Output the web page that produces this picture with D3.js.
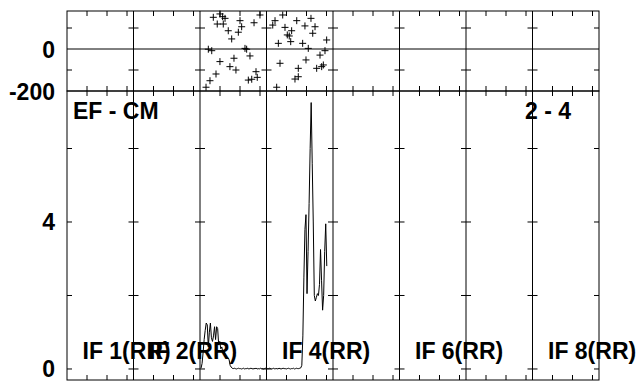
<!DOCTYPE html>
<html><head><meta charset="utf-8">
<script src="https://cdn.jsdelivr.net/npm/d3@7"></script>
<style>html,body{margin:0;padding:0;background:#fff;}svg{display:block;}</style>
</head><body><svg id="c" width="640" height="383"></svg>
<script>
// ---- data ----
const nIF = 8;
const chanPerIF = 64;
const minorTickOffsets = [19.25, 38.5, 57.75];
const phaseTicks = [-100, 0, 100];
const phaseTickLabels = [0, -200];
const ampTicks = [0, 2, 4, 6];
const ampTickLabels = [0, 4];
const ifLabelIndex = [1, 2, 4, 6, 8];
const ifLabelText = ["IF 1(RR)", "IF 2(RR)", "IF 4(RR)", "IF 6(RR)", "IF 8(RR)"];
const baselineLabel = "EF - CM";
const sourceLabel = "2 - 4";

const ampFirstChannel = 129;
const ampValues = [
  0.02,0.15,0.45,0.8,1.05,1.25,1.2,0.6,1.0,1.25,0.85,0.75,0.9,1.15,0.8,1.15,1.1,0.65,0.75,0.55,
  0.6,0.45,0.5,0.4,0.35,0.3,0.3,0.25,0.1,0.05,0.02,
  0.01,0.02,0.01,0.0,0.01,0.02,0.01,0.01,0.0,0.01,
  0.02,0.0,0.01,0.01,0.02,0.0,0.01,0.02,0.01,0.0,
  0.01,0.01,0.02,0.0,0.01,0.0,0.02,0.01,0.01,0.0,
  0.01,0.02,0.0,0.01,0.01,0.02,0.01,0.0,0.01,0.02,
  0.0,0.01,0.01,0.0,0.02,0.01,0.0,0.01,0.02,0.01,
  0.01,0.0,0.01,0.02,0.01,0.0,0.01,0.01,0.02,0.0,
  0.01,0.02,0.01,0.01,0.02,0.03,
  0.1,0.9,2.5,3.8,4.2,2.05,3.2,4.5,6.0,7.25,5.6,4.0,2.0,1.85,1.95,2.05,2.0,2.3,3.25,2.4,1.6,2.0,3.2,3.95,2.8
];

const phaseChannels = [
  140.8,147.2,149.8,152.1,144.6,150.4,155.2,166.5,168.1,164.9,158.5,180.0,185.7,136.0,139.3,171.3,172.9,
  147.2,160.7,176.1,156.8,162.6,143.4,137.6,133.8,181.9,183.1,174.5,177.8,
  207.6,200.2,198.0,209.8,216.2,212.0,213.9,215.3,203.4,221.1,229.0,234.8,238.7,236.5,226.8,232.2,
  249.9,248.3,243.5,240.3,245.1,246.7,230.0,222.6,222.6,219.4,205.0,201.8
];
const phaseValues = [
  151,167,154,146,119,119,87,135,106,80,48,125,162,-1,-8,3,-1,
  -60,-44,-33,-84,-100,-119,-151,-182,-108,-135,-148,-144,
  162,135,114,103,87,67,62,35,27,135,110,146,106,75,27,3,
  43,-8,-29,-92,-84,-76,-52,-92,-132,-143,-68,-182
];

// ---- layout ----
const pLeft = 67, pRight = 599, pTop = 11, pMid = 91, pBottom = 380;
const svg = d3.select("#c");
const x = d3.scaleLinear().domain([0, nIF * chanPerIF]).range([pLeft, pRight]);
const yP = d3.scaleLinear().domain([-200, 181]).range([pMid, pTop]);
const yA = d3.scaleLinear().domain([-0.3, 7.565]).range([pBottom, pMid]);
const font = "'Liberation Sans', Arial, Helvetica, sans-serif";
const tl = 5;

const g = svg.append("g").attr("stroke", "#000").attr("stroke-width", 1).attr("fill", "none");

// frames
g.append("rect").attr("x", pLeft).attr("y", pTop).attr("width", pRight - pLeft).attr("height", pMid - pTop);
g.append("rect").attr("x", pLeft).attr("y", pMid).attr("width", pRight - pLeft).attr("height", pBottom - pMid);

// IF boundaries
const boundaries = d3.range(1, nIF).map(i => i * chanPerIF);
boundaries.forEach(c => {
  g.append("line").attr("x1", x(c)).attr("x2", x(c)).attr("y1", pTop).attr("y2", pBottom);
});
// zero phase line
g.append("line").attr("x1", pLeft).attr("x2", pRight).attr("y1", yP(0)).attr("y2", yP(0));

// x minor ticks
d3.range(nIF).forEach(i => {
  minorTickOffsets.forEach(o => {
    const xx = x(i * chanPerIF + o);
    g.append("line").attr("x1", xx).attr("x2", xx).attr("y1", pTop).attr("y2", pTop + tl);
    g.append("line").attr("x1", xx).attr("x2", xx).attr("y1", pMid - tl).attr("y2", pMid + tl);
    g.append("line").attr("x1", xx).attr("x2", xx).attr("y1", pBottom - tl).attr("y2", pBottom);
  });
});

// y ticks on frame edges and boundaries
const yTickYs = phaseTicks.filter(v => v !== 0).map(v => yP(v)).concat(ampTicks.map(v => yA(v)));
yTickYs.forEach(yy => {
  g.append("line").attr("x1", pLeft).attr("x2", pLeft + tl).attr("y1", yy).attr("y2", yy);
  g.append("line").attr("x1", pRight - tl).attr("x2", pRight).attr("y1", yy).attr("y2", yy);
  boundaries.forEach(c => {
    g.append("line").attr("x1", x(c) - tl).attr("x2", x(c) + tl).attr("y1", yy).attr("y2", yy);
  });
});

// amplitude line
const ampData = ampValues.map((v, i) => [ampFirstChannel + i, v]);
g.append("path")
  .attr("d", d3.line().x(d => x(d[0])).y(d => yA(d[1]))(ampData))
  .attr("stroke-linejoin", "miter");

// phase crosses
const s = 3.5;
const pts = phaseChannels.map((c, i) => [x(c), yP(phaseValues[i])]);
g.append("path").attr("d", pts.map(p => `M${p[0]-s},${p[1]}h${2*s}M${p[0]},${p[1]-s}v${2*s}`).join(""));

// texts
const t = svg.append("g").attr("font-family", font).attr("font-weight", "bold")
  .attr("font-size", 23).attr("fill", "#000");
phaseTickLabels.forEach(v => t.append("text").attr("x", 55).attr("y", yP(v) + 8.5)
  .attr("text-anchor", "end").text(v));
ampTickLabels.forEach(v => t.append("text").attr("x", 55).attr("y", yA(v) + 8.5)
  .attr("text-anchor", "end").text(v));
t.append("text").attr("x", pLeft + 6).attr("y", 119).text(baselineLabel);
t.append("text").attr("x", 525).attr("y", 119).text(sourceLabel);
ifLabelIndex.forEach((k, i) => {
  t.append("text").attr("x", x((k - 1) * chanPerIF) + 15.5).attr("y", 359).text(ifLabelText[i]);
});
</script></body></html>
